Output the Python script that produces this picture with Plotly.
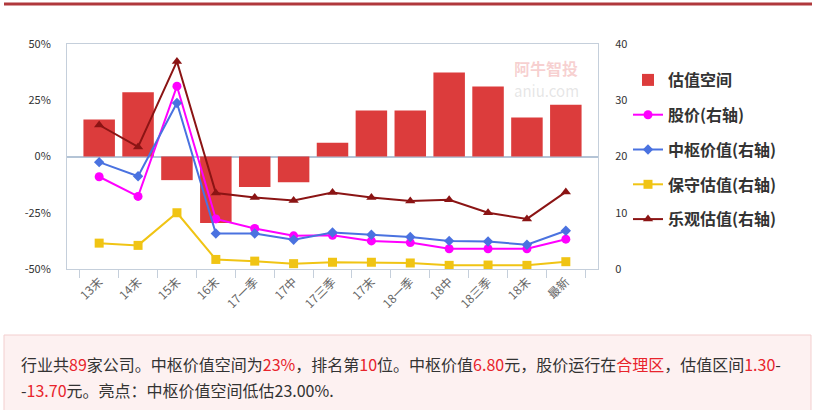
import plotly.graph_objects as go

categories = ["13末", "14末", "15末", "16末", "17一季", "17中", "17三季", "17末", "18一季", "18中", "18三季", "18末", "最新"]
space_pct = [16.5, 28.6, -10.5, -29.5, -13.6, -11.4, 6.1, 20.4, 20.4, 37.3, 31.1, 17.3, 23.0]
price = [16.4, 12.9, 32.5, 8.9, 7.2, 5.9, 6.0, 5.0, 4.7, 3.6, 3.6, 3.6, 5.3]
center_value = [19.0, 16.5, 29.5, 6.3, 6.3, 5.2, 6.5, 6.1, 5.7, 5.0, 4.9, 4.3, 6.8]
conservative = [4.6, 4.2, 10.0, 1.7, 1.4, 0.95, 1.2, 1.2, 1.07, 0.65, 0.7, 0.65, 1.3]
optimistic = [25.6, 21.7, 36.9, 13.5, 12.7, 12.2, 13.6, 12.7, 12.1, 12.3, 10.0, 8.9, 13.7]
left_ticks = [50, 25, 0, -25, -50]
left_tick_text = ["50%", "25%", "0%", "-25%", "-50%"]
right_ticks = [0, 10, 20, 30, 40]

FONT = "Microsoft YaHei, Noto Sans CJK SC, sans-serif"
W, H = 826, 410
L, R, T, B = 67, 598, 44, 269


def px(x):
    return (x - L) / (R - L)


def py(y):
    return (B - y) / (B - T)


fig = go.Figure()
fig.add_trace(go.Bar(
    x=categories, y=space_pct, name="估值空间", marker=dict(color="#dc3c3c", line=dict(width=0)),
    yaxis="y", legendgroup="a"))
fig.add_trace(go.Scatter(
    x=categories, y=price, name="股价(右轴)", mode="lines+markers", yaxis="y2",
    line=dict(color="#ff00ff", width=2), marker=dict(symbol="circle", size=9, color="#ff00ff"),
    legendgroup="b"))
fig.add_trace(go.Scatter(
    x=categories, y=center_value, name="中枢价值(右轴)", mode="lines+markers", yaxis="y2",
    line=dict(color="#4a72e0", width=2), marker=dict(symbol="diamond", size=8, color="#4a72e0"),
    legendgroup="c"))
fig.add_trace(go.Scatter(
    x=categories, y=conservative, name="保守估值(右轴)", mode="lines+markers", yaxis="y2",
    line=dict(color="#f0c414", width=2), marker=dict(symbol="square", size=9, color="#f0c414"),
    legendgroup="d"))
fig.add_trace(go.Scatter(
    x=categories, y=optimistic, name="乐观估值(右轴)", mode="lines+markers", yaxis="y2",
    line=dict(color="#8b1414", width=2), marker=dict(symbol="triangle-up", size=9, color="#8b1414"),
    legendgroup="e"))

axis_line = "#c5cfdb"
fig.update_layout(
    width=W, height=H,
    margin=dict(l=L, r=W - R, t=T, b=H - B, pad=0),
    paper_bgcolor="white", plot_bgcolor="white",
    font=dict(family=FONT, size=11, color="#333"),
    bargap=0.19,
    showlegend=True,
    legend=dict(x=px(628), y=py(63), xanchor="left", yanchor="top",
                font=dict(size=16, color="#333", family=FONT, weight="bold"),
                tracegroupgap=11, bgcolor="rgba(0,0,0,0)", itemwidth=30),
    xaxis=dict(type="category", showline=True, linecolor=axis_line, linewidth=1, mirror=True,
               ticks="outside", tickson="boundaries", ticklen=8, tickcolor=axis_line,
               tickangle=-45, tickfont=dict(size=12, color="#666"), showgrid=False, fixedrange=True),
    yaxis=dict(range=[-50, 50], tickvals=left_ticks, ticktext=left_tick_text, showgrid=False,
               zeroline=True, zerolinecolor="#b4c4d6", zerolinewidth=2,
               showline=True, linecolor=axis_line, linewidth=1, ticks="", ticklabelstandoff=13,
               tickfont=dict(size=11, color="#333")),
    yaxis2=dict(range=[0, 40], tickvals=right_ticks, overlaying="y", side="right", showgrid=False,
                zeroline=False, showline=True, linecolor=axis_line, ticks="", ticklabelstandoff=14,
                tickfont=dict(size=11, color="#333")),
)

shapes = [
    dict(type="line", xref="paper", yref="paper", x0=px(4), x1=px(812), y0=py(4), y1=py(4),
         line=dict(color="#b0383c", width=3)),
    dict(type="rect", xref="paper", yref="paper", x0=px(4), x1=px(811), y0=py(335), y1=py(415),
         fillcolor="#fdf1f1", line=dict(color="#f3cfcf", width=1), layer="below"),
]
fig.update_layout(shapes=shapes)

red = "#e8242c"
line1 = ("行业共<span style='color:%s'>89</span>家公司。中枢价值空间为<span style='color:%s'>23%%</span>，排名第"
         "<span style='color:%s'>10</span>位。中枢价值<span style='color:%s'>6.80</span>元，股价运行在"
         "<span style='color:%s'>合理区</span>，估值区间<span style='color:%s'>1.30</span>-") % ((red,) * 6)
line2 = "-<span style='color:%s'>13.70</span>元。亮点：中枢价值空间低估23.00%%." % red

annotations = [
    dict(text=line1, xref="paper", yref="paper", x=px(19), y=py(364), xanchor="left", yanchor="middle",
         showarrow=False, font=dict(size=16, color="#333", family=FONT)),
    dict(text=line2, xref="paper", yref="paper", x=px(19), y=py(390), xanchor="left", yanchor="middle",
         showarrow=False, font=dict(size=16, color="#333", family=FONT)),
    dict(text="阿牛智投", xref="paper", yref="paper", x=px(546), y=py(68), xanchor="center", yanchor="middle",
         showarrow=False, font=dict(size=16, color="rgba(232,120,120,0.35)", family=FONT, weight="bold")),
    dict(text="aniu.com", xref="paper", yref="paper", x=px(546), y=py(90), xanchor="center", yanchor="middle",
         showarrow=False, font=dict(size=15, color="rgba(200,200,200,0.45)", family=FONT)),
]
fig.update_layout(annotations=annotations)

fig.write_html("out.html", config={"displayModeBar": False},
               post_script="document.body.style.margin='0';document.body.style.padding='0';")
